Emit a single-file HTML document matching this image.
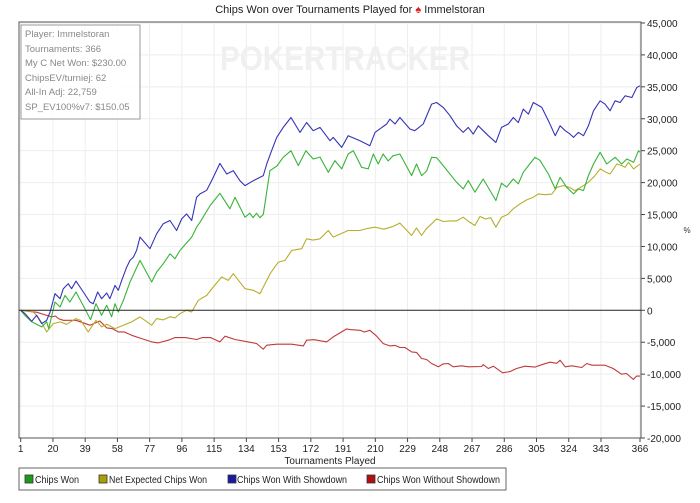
<!DOCTYPE html>
<html><head><meta charset="utf-8">
<style>
body{margin:0;background:#fff;width:700px;height:498px;overflow:hidden;font-family:"Liberation Sans",sans-serif;}
svg text{font-family:"Liberation Sans",sans-serif;}
</style></head>
<body>
<svg id="chart" width="700" height="498" viewBox="0 0 700 498">
<g id="grid"></g>
<text x="350" y="13" font-size="11" text-anchor="middle" fill="#222">Chips Won over Tournaments Played for <tspan fill="#d22">♠</tspan> Immelstoran</text>
<text x="345" y="70" font-size="34" font-weight="bold" text-anchor="middle" fill="#f0f0f0" textLength="250" lengthAdjust="spacingAndGlyphs">POKERTRACKER</text>
<g id="series"></g>
<g id="axes"></g>
<g>
<rect x="21" y="25" width="119" height="94" fill="#fff" fill-opacity="0.85" stroke="#999" stroke-width="1"/>
<g font-size="9.5" fill="#888">
<text x="25" y="37">Player: Immelstoran</text>
<text x="25" y="52">Tournaments: 366</text>
<text x="25" y="66">My C Net Won: $230.00</text>
<text x="25" y="81">ChipsEV/turniej: 62</text>
<text x="25" y="95">All-In Adj: 22,759</text>
<text x="25" y="110">SP_EV100%v7: $150.05</text>
</g></g>
<text x="330" y="464" font-size="10" text-anchor="middle" fill="#222">Tournaments Played</text>
<text x="687" y="233" font-size="8" text-anchor="middle" fill="#333">%</text>
<g>
<rect x="19" y="468" width="487" height="22" fill="#fff" stroke="#666"/>
<g font-size="10" fill="#222">
<g><rect x="25" y="475" width="8" height="8" fill="#1a9c1a" stroke="#333" stroke-width="0.8"/><text x="35" y="483" textLength="44" lengthAdjust="spacingAndGlyphs">Chips Won</text></g>
<g><rect x="99" y="475" width="8" height="8" fill="#a8a000" stroke="#333" stroke-width="0.8"/><text x="109" y="483" textLength="98" lengthAdjust="spacingAndGlyphs">Net Expected Chips Won</text></g>
<g><rect x="228" y="475" width="8" height="8" fill="#1a1aa0" stroke="#333" stroke-width="0.8"/><text x="237" y="483" textLength="110" lengthAdjust="spacingAndGlyphs">Chips Won With Showdown</text></g>
<g><rect x="367" y="475" width="8" height="8" fill="#b01010" stroke="#333" stroke-width="0.8"/><text x="377" y="483" textLength="123" lengthAdjust="spacingAndGlyphs">Chips Won Without Showdown</text></g>
</g></g>
</svg>
<script>
const xTicks=[1,20,39,58,77,96,115,134,153,172,191,210,229,248,267,286,305,324,343,366];
const yTicks=[-20000,-15000,-10000,-5000,0,5000,10000,15000,20000,25000,30000,35000,40000,45000];
const blueT=[1,3.5,7.5,10.4,13.4,16.3,18.3,21.2,24.2,26.1,29,31,33.6,37.9,41.8,43.8,46.4,48.7,51.7,53.6,56.6,58.5,60.5,63.5,65.4,67.4,69.3,71.3,77.2,81.1,85,89,92.9,95.9,98.8,101.8,104.7,106.7,110.6,113.5,118.4,122.4,126.3,130.2,133.2,138.1,144,146,148.9,151.9,155.7,160.3,165.6,169.5,173.4,177.4,183.3,185.2,190.2,194,201,206.8,209.8,216.7,218.6,221.6,224.5,230.4,233.3,238.2,243.2,246.1,250,254,257.9,261.8,264.8,267.7,270.7,273.6,276.6,281.1,284.4,288.4,291.3,294.3,297.2,300.2,303.1,308.1,312,316,318.9,321.9,324.8,326.8,329.7,332.7,335.6,338.6,342.5,345.4,348.4,351.3,354.3,357.2,361.2,364.1,366];
const blueV=[0,-500,-1720,-780,-2080,-1560,-260,2600,1820,3390,4170,3390,4580,2860,1300,1040,2860,1820,2710,1820,3900,3125,4690,6770,7810,8330,9375,11460,9640,11980,13540,14060,12500,14320,15100,14060,17700,18230,18800,20300,23000,21350,21870,20300,19530,20300,21090,22900,25000,27080,28640,30200,27860,29420,28125,28640,26560,27080,25520,27340,26560,25780,27860,29170,29950,29170,30200,28390,28125,29170,32290,32550,31770,30470,28900,27860,28640,27600,28900,28125,27340,26300,28640,29170,30200,29400,31510,30730,32550,31770,29690,27340,28900,28125,27600,27080,27860,27340,28900,31250,32810,32290,31250,32810,32550,33590,33330,34900,35160];
const greenT=[1,3.5,7.5,13.4,16.3,17.5,21.2,24.2,27.1,30,33.6,42.2,45.4,48.7,51.7,54.6,56.6,58.5,61.5,65.4,71.3,78.2,81.1,85,89,91.9,94.9,101.8,104.7,106.7,112.6,118.4,124.3,127.3,133.2,136,138,140,142,144,147.9,152,155.7,160.3,164.6,169.1,173.4,177.4,182.3,186.2,190.2,194,197,201.9,205.8,208.8,211.7,214.6,217.6,220.5,224.5,231.4,234.3,237.3,240.2,243.2,246.1,250,257.9,261.8,264.8,268.7,273.6,281.1,284.4,287.4,291.3,294.3,297.2,301,304.1,307,312,316,318.9,322.8,326.8,329.7,332.7,335.6,338.6,342.5,346.4,351.3,355.2,358.2,362.2,365.1,366];
const greenV=[0,-800,-1800,-2600,-1800,-2860,1300,520,2340,1300,2860,-1460,1040,-780,780,-1040,1040,-260,1560,4430,7810,4430,5990,7290,8850,8070,9375,11460,13020,13800,16400,18330,15890,17700,14580,15200,14500,15200,14500,15000,21870,22600,23960,25000,22660,25000,23700,24000,21610,23440,22140,24480,25000,22400,22140,24480,22920,24480,23400,24200,24480,21090,22920,21090,21800,23960,23900,22660,20050,19010,20310,18490,20570,17190,19900,19300,20570,19800,21610,22920,23960,23500,21350,19010,20830,19270,18230,19000,18750,21090,22920,24740,22920,23960,22920,23700,23180,25000,24740];
const yellowT=[1,8,10.4,13.5,16.3,20.2,24.2,28,33.6,36.5,40.8,45.4,48.7,51.7,56.6,61.5,66.4,71.3,78.2,81.1,85,89,91.9,94.9,98.8,101.8,105.7,110.6,114.5,119.4,123.3,126.3,133.2,138.1,142,145,148,152.9,156.8,160.7,166.6,169.5,173.4,177.4,182.3,185.2,189,194,201,205,209.8,215,220,224.5,231.4,234.3,237.3,240,243.2,246.1,250,254,257.9,261.8,265,268.7,271.7,275,278,281.1,284.4,288,291.3,295.3,299.2,303.1,306.1,310,314,317,320.9,324.8,327.7,332.7,335.6,339.5,342.5,345.4,348.4,352.3,355,357.2,359.2,362.2,366];
const yellowV=[0,-200,-780,-2000,-3390,-2080,-1820,-2200,-1300,-1600,-3390,-1560,-2600,-2200,-2860,-2340,-1820,-1040,-2340,-1300,-1500,-1000,-1200,-520,0,-260,1560,2340,3650,5210,4690,5730,3390,3125,2600,4170,5730,7550,7810,9375,9640,11200,11000,11200,12500,11460,11900,12500,12500,12800,13020,12700,13100,13650,11720,12900,11720,12760,13540,14320,13900,14000,14000,14580,13900,13280,14690,14300,14500,13020,14580,15000,15890,16670,17290,17710,18230,18100,18200,19270,19530,19200,18750,19530,20050,21090,22140,21700,21350,22920,22700,22400,23180,22140,22920];
const redT=[1,6.5,10.4,14,19.3,21.5,23.2,26.1,33.6,41.8,47.7,51.7,55,58.5,62,66.4,72.3,78.2,82.1,88,91.9,98,104.7,108,113,118.4,121.4,127.3,135.1,140,144,146,152,160.7,167.6,169.5,174,181.3,185.2,189.2,193.1,195,201,203.5,206.8,210.8,214.7,218.6,221.6,224.5,227.5,231.4,234.3,237.3,240.2,243.2,247.1,250,253,255.9,260.8,264.8,272.6,273.6,276.6,279.6,285,289.3,293.3,298.2,304,309,313,316.9,318.9,321.9,325.8,331.7,334.6,337.6,340.5,345.4,350.2,355.1,358,362.1,364,366];
const redV=[0,-200,-300,-600,-1040,-900,-1300,-1560,-1560,-2340,-1670,-2760,-2860,-3390,-3390,-3910,-4430,-4950,-5100,-4690,-4270,-4270,-4580,-4270,-4270,-4950,-4060,-4580,-4950,-5200,-6100,-5470,-5310,-5310,-5570,-4690,-4600,-4950,-4170,-3540,-2920,-3020,-3125,-3400,-3125,-4060,-5210,-5570,-5500,-5830,-5830,-6510,-6600,-7550,-7700,-8330,-8850,-8400,-8330,-8850,-8700,-8850,-8800,-8500,-9110,-8750,-9790,-9600,-9110,-8750,-8900,-8440,-8125,-8300,-7810,-8850,-8700,-8960,-8330,-8600,-8600,-8600,-9110,-10000,-9900,-10830,-10310,-10310];

const L=20.7,R=640,T=22,B=438,PL=19,PR=641;
const xs=t=>L+(t-1)*(R-L)/365;
const ys=v=>310.3-v*(438-310.3)/20000;
const NS='http://www.w3.org/2000/svg';
function mk(tag,attrs,parent){const e=document.createElementNS(NS,tag);for(const k in attrs)e.setAttribute(k,attrs[k]);parent.appendChild(e);return e;}
const grid=document.getElementById('grid'),axes=document.getElementById('axes'),series=document.getElementById('series');
xTicks.forEach(t=>{
  const l=mk('line',{x1:xs(t),x2:xs(t),y1:T,y2:B,stroke:'#eeeeee','stroke-width':1},grid);
  
  
  const tk=mk('line',{x1:xs(t),x2:xs(t),y1:B,y2:B+4,stroke:'#444'},axes);
  
  
  const tx=mk('text',{x:xs(t),y:B+14,'font-size':10,'text-anchor':'middle',fill:'#222'},axes);
  tx.textContent=t;
  
  
});
yTicks.forEach(v=>{
  if(v!==0){const l=mk('line',{x1:PL,x2:PR,y1:ys(v),y2:ys(v),stroke:'#eeeeee','stroke-width':1},grid);
  
  }
  const tk=mk('line',{x1:PR,x2:PR+4,y1:ys(v),y2:ys(v),stroke:'#444'},axes);
  
  
  const tx=mk('text',{x:PR+6,y:ys(v)+4,'font-size':10,fill:'#222'},axes);
  tx.textContent=v.toLocaleString('en-US');
  
  
});
const frame=mk('rect',{x:PL,y:T,width:PR-PL,height:B-T,fill:'none',stroke:'#555','stroke-width':1},axes);


const zero=mk('line',{x1:PL,x2:PR,y1:ys(0),y2:ys(0),stroke:'#222','stroke-width':1},axes);


function draw(T_,V,color,name){
  const d=T_.map((t,i)=>(i?'L':'M')+xs(t).toFixed(1)+' '+ys(V[i]).toFixed(1)).join(' ');
  const p=mk('path',{d:d,fill:'none',stroke:color,'stroke-width':1.1,'stroke-linejoin':'round'},series);
  
  
}
draw(redT,redV,'#c03a3a','line-chips-won-without-showdown');
draw(yellowT,yellowV,'#b8ae2c','line-net-expected-chips-won');
draw(greenT,greenV,'#38b438','line-chips-won');
draw(blueT,blueV,'#3434b8','line-chips-won-with-showdown');
</script>
</body></html>
